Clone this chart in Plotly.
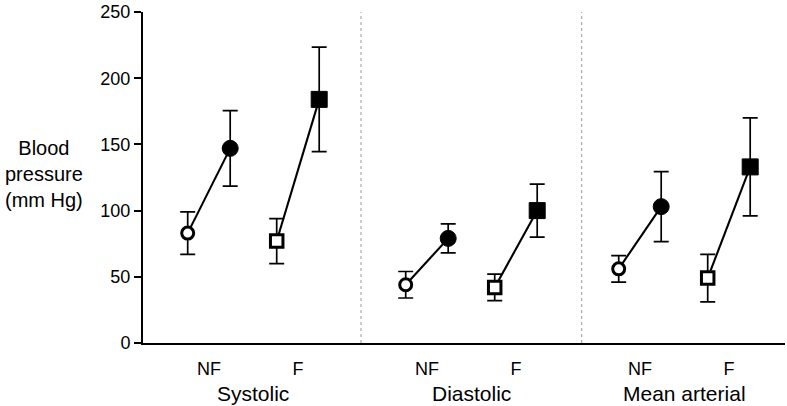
import plotly.graph_objects as go

# ---- data ----
sections = ["Systolic", "Diastolic", "Mean arterial"]
groups = ["NF", "F"]

nf_open_mean = [83, 44, 56]
nf_open_err = [16, 10, 10]
nf_filled_mean = [147, 79, 103]
nf_filled_err = [28.5, 11, 26.5]
f_open_mean = [77, 42, 49]
f_open_err = [17, 10, 18]
f_filled_mean = [184, 100, 133]
f_filled_err = [39.5, 20, 37]

y_ticks = [0, 50, 100, 150, 200, 250]

# ---- layout constants (pixel-like x units) ----
sec_off = [0, 218, 431]
grp_off = {"NF": 0, "F": 89}
state_off = [0, 42.5]
divider_x = [173.3, 394]

def xpos(si, g, st):
    return sec_off[si] + grp_off[g] + state_off[st]

FONT = "Liberation Sans, Arial, sans-serif"

fig = go.Figure()

# connecting lines
lx, ly = [], []
for si in range(3):
    lx += [xpos(si, "NF", 0), xpos(si, "NF", 1), None]
    ly += [nf_open_mean[si], nf_filled_mean[si], None]
    lx += [xpos(si, "F", 0), xpos(si, "F", 1), None]
    ly += [f_open_mean[si], f_filled_mean[si], None]
fig.add_trace(go.Scatter(x=lx, y=ly, mode="lines",
                         line=dict(color="black", width=2.1),
                         hoverinfo="skip", showlegend=False))

def marker_trace(g, st, means, errs, symbol, filled, size):
    xs = [xpos(si, g, st) for si in range(3)]
    return go.Scatter(
        x=xs, y=means, mode="markers", showlegend=False,
        error_y=dict(type="data", array=errs, visible=True,
                     color="black", thickness=1.7, width=7.5),
        marker=dict(symbol=symbol, size=size,
                    color="black" if filled else "white",
                    line=dict(color="black", width=1 if filled else 3)),
    )

fig.add_trace(marker_trace("NF", 0, nf_open_mean, nf_open_err, "circle", False, 12))
fig.add_trace(marker_trace("NF", 1, nf_filled_mean, nf_filled_err, "circle", True, 16))
fig.add_trace(marker_trace("F", 0, f_open_mean, f_open_err, "square", False, 12.5))
fig.add_trace(marker_trace("F", 1, f_filled_mean, f_filled_err, "square", True, 16))

# dividers
for dx in divider_x:
    fig.add_shape(type="line", xref="x", yref="y", x0=dx, x1=dx, y0=0, y1=250,
                  line=dict(color="#9a9a9a", width=1, dash="dot"), layer="below")

# tick positions for NF / F labels
tickvals, ticktext = [], []
for si in range(3):
    for g in groups:
        tickvals.append((xpos(si, g, 0) + xpos(si, g, 1)) / 2)
        ticktext.append(g)

# section labels
for si, name in enumerate(sections):
    cx = (xpos(si, "NF", 0) + xpos(si, "F", 1)) / 2
    fig.add_annotation(x=cx, xref="x", y=0, yref="paper", yanchor="top",
                       yshift=-37, text=name, showarrow=False,
                       font=dict(size=21, color="black", family=FONT))

# y title
fig.add_annotation(x=-0.154, xref="paper", y=128, yref="y",
                   text="Blood<br>pressure<br>(mm Hg)", showarrow=False,
                   xanchor="center", yanchor="middle", align="center",
                   font=dict(size=20, color="black", family=FONT))

fig.update_layout(
    width=787, height=406,
    margin=dict(l=143, r=2, t=6, b=63),
    plot_bgcolor="white", paper_bgcolor="white",
    font=dict(family=FONT, color="black"),
    xaxis=dict(range=[-44.7, 597.3], showgrid=False, zeroline=False,
               showline=True, linecolor="black", linewidth=2,
               tickvals=tickvals, ticktext=ticktext, ticks="",
               ticklabelstandoff=8,
               tickfont=dict(size=18, color="black", family=FONT)),
    yaxis=dict(range=[0, 250], showgrid=False, zeroline=False,
               showline=True, linecolor="black", linewidth=2,
               tickvals=y_ticks, ticks="outside", ticklen=7, tickwidth=2,
               tickcolor="black", ticklabeloverflow="allow",
               tickfont=dict(size=18, color="black", family=FONT)),
)

fig.write_html("out.html", config={"displayModeBar": False},
               post_script="document.body.style.margin='0';")
